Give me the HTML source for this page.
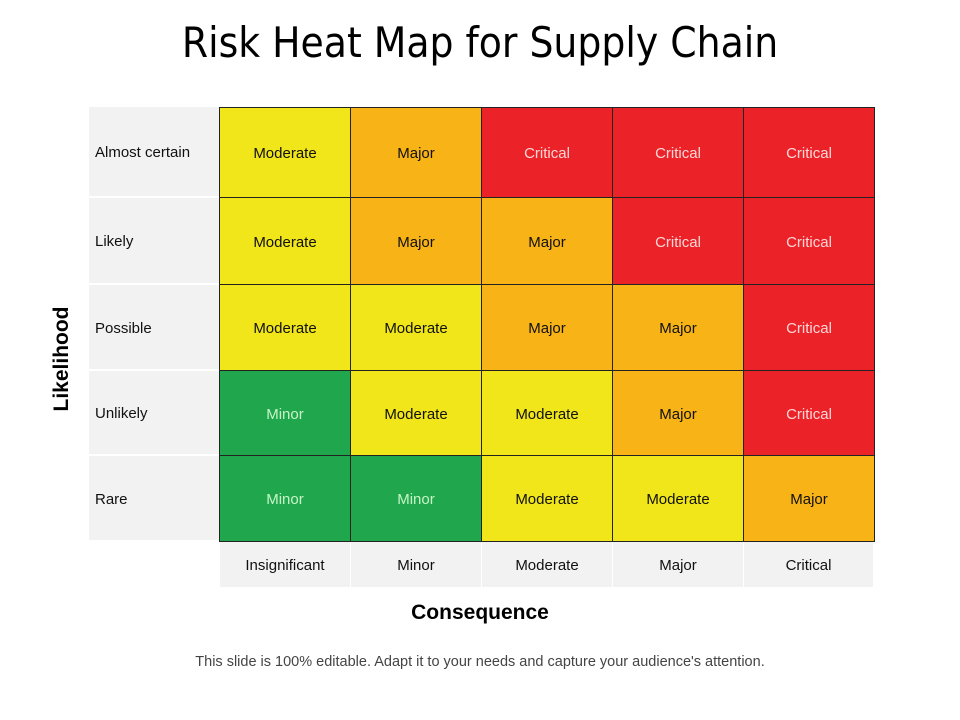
<!DOCTYPE html>
<html><head><meta charset="utf-8"><style>
body{margin:0;background:#fff;}
#p{position:relative;width:960px;height:720px;overflow:hidden;font-family:"Liberation Sans",sans-serif;}
.t{position:absolute;left:0;width:960px;top:18px;text-align:center;font-family:"DejaVu Sans Condensed","DejaVu Sans",sans-serif;font-stretch:condensed;font-size:42px;color:#000;}
.c{position:absolute;box-sizing:border-box;display:flex;align-items:center;justify-content:center;font-size:15px;color:#111;border:1px solid #222;padding-top:2px;}
.l{position:absolute;box-sizing:border-box;background:#f2f2f2;display:flex;align-items:center;font-size:15px;color:#111;padding-top:2px;}
.Y{background:#f0e619}.O{background:#f8b316}.R{background:#ec2229;color:#fbd7d7}.G{background:#20a64c;color:#c8f5c8}
</style></head><body><div id="p">
<div class="t">Risk Heat Map for Supply Chain</div>
<div class="l" style="left:89px;top:107px;width:130px;height:89px;padding-left:6px">Almost certain</div>
<div class="l" style="left:89px;top:198px;width:130px;height:85px;padding-left:6px">Likely</div>
<div class="l" style="left:89px;top:285px;width:130px;height:84px;padding-left:6px">Possible</div>
<div class="l" style="left:89px;top:371px;width:130px;height:83px;padding-left:6px">Unlikely</div>
<div class="l" style="left:89px;top:456px;width:130px;height:84px;padding-left:6px">Rare</div>
<div id="g"></div>
<div class="l" style="left:220px;top:542px;width:130px;height:45px;justify-content:center">Insignificant</div>
<div class="l" style="left:351px;top:542px;width:130px;height:45px;justify-content:center">Minor</div>
<div class="l" style="left:482px;top:542px;width:130px;height:45px;justify-content:center">Moderate</div>
<div class="l" style="left:613px;top:542px;width:130px;height:45px;justify-content:center">Major</div>
<div class="l" style="left:744px;top:542px;width:129px;height:45px;justify-content:center">Critical</div>
<div style="position:absolute;left:0;width:960px;top:601px;text-align:center;font-weight:bold;font-size:21px">Consequence</div>
<div style="position:absolute;left:62px;top:359px;transform:translate(-50%,-50%) rotate(-90deg);font-weight:bold;font-size:21px;white-space:nowrap">Likelihood</div>
<div style="position:absolute;left:0;width:960px;top:654px;text-align:center;font-size:14.5px;color:#444">This slide is 100% editable. Adapt it to your needs and capture your audience's attention.</div>
<script>
var xs=[219,350,481,612,743,874],ys=[107,197,284,370,455,541];
var d=[["Y","O","R","R","R"],["Y","O","O","R","R"],["Y","Y","O","O","R"],["G","Y","Y","O","R"],["G","G","Y","Y","O"]];
var n={Y:"Moderate",O:"Major",R:"Critical",G:"Minor"};
var h="";
for(var r=0;r<5;r++)for(var c=0;c<5;c++){var k=d[r][c];
h+='<div class="c '+k+'" style="left:'+xs[c]+'px;top:'+ys[r]+'px;width:'+(xs[c+1]-xs[c]+1)+'px;height:'+(ys[r+1]-ys[r]+1)+'px">'+n[k]+'</div>';}
document.getElementById("g").outerHTML=h;
</script>
</div></body></html>
